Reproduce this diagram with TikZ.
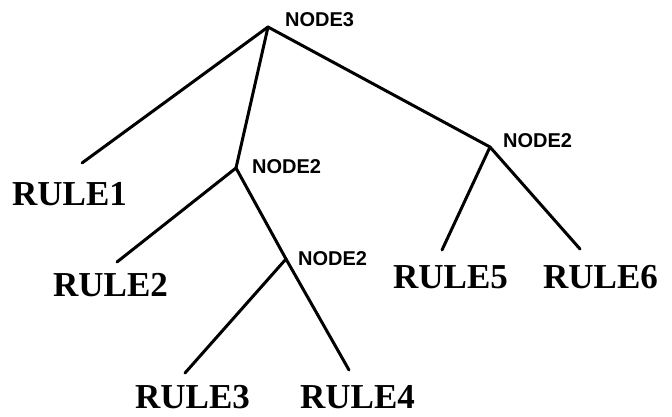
\documentclass[tikz,border=0pt]{standalone}
\usepackage{fontspec}
\newfontfamily\rulefont{Liberation Serif}
\newfontfamily\nodefont{Liberation Sans}
\tikzset{
  rulelabel/.style={anchor=base west, inner sep=0pt, font=\rulefont\bfseries\fontsize{35}{40}\selectfont},
  nodelabel/.style={anchor=base west, inner sep=0pt, font=\nodefont\bfseries\fontsize{20}{24}\selectfont},
  branch/.style={line width=3pt, line cap=round, line join=round}
}
\begin{document}
\begin{tikzpicture}[x=1pt,y=-1pt]
\useasboundingbox (0,0) rectangle (672,417);
% junctions
\coordinate (n3) at (268,27);
\coordinate (n2a) at (236,168);
\coordinate (n2b) at (286,259);
\coordinate (n2c) at (490,147);
% leaf ends
\coordinate (r1top) at (82,163);
\coordinate (r2top) at (117,262);
\coordinate (r3top) at (185,373);
\coordinate (r4top) at (349,370);
\coordinate (r5top) at (442,250);
\coordinate (r6top) at (580,249);
% labels
\node[nodelabel] (l3) at (285,27) {NODE3};
\node[nodelabel] (l2a) at (252,173) {NODE2};
\node[nodelabel] (l2b) at (298,265) {NODE2};
\node[nodelabel] (l2c) at (503,148) {NODE2};
\node[rulelabel] (rule1) at (12,205) {RULE1};
\node[rulelabel] (rule2) at (53,296) {RULE2};
\node[rulelabel] (rule3) at (135,408) {RULE3};
\node[rulelabel] (rule4) at (300,408) {RULE4};
\node[rulelabel] (rule5) at (393,288) {RULE5};
\node[rulelabel] (rule6) at (543,288) {RULE6};
% branches
\draw[branch] (r1top) -- (n3) -- (n2c);
\draw[branch] (n3) -- (n2a);
\draw[branch] (r2top) -- (n2a) -- (n2b);
\draw[branch] (r3top) -- (n2b) -- (r4top);
\draw[branch] (r5top) -- (n2c) -- (r6top);
\end{tikzpicture}
\end{document}
